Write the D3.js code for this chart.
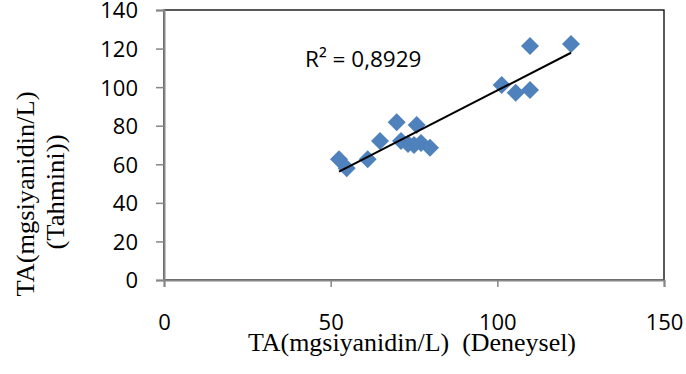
<!DOCTYPE html>
<html><head><meta charset="utf-8">
<script src="https://cdn.jsdelivr.net/npm/d3@7"></script>
<style>body{margin:0;background:#fff}svg{display:block}</style>
</head><body>
<svg id="c" width="686" height="374"></svg>
<script>
const xValues = [52.5, 54.8, 61.1, 64.8, 69.8, 71.1, 73.2, 75.0, 75.8, 77.1, 79.8, 101.3, 105.5, 109.8, 109.8, 122.1];
const yValues = [62.6, 57.9, 62.6, 72.1, 81.8, 72.1, 70.5, 70.0, 80.4, 71.0, 68.6, 101.1, 97.1, 98.5, 121.3, 122.4];
const xTicks = [0, 50, 100, 150];
const yTicks = [0, 20, 40, 60, 80, 100, 120, 140];
const r2Label = "R² = 0,8929";
const xTitle = "TA(mgsiyanidin/L)  (Deneysel)";
const yTitleLines = ["TA(mgsiyanidin/L)", "(Tahmini))"];

const svg = d3.select("#c");
const L = 164, R = 664, T = 10, B = 280;
const x = d3.scaleLinear().domain([0, 150]).range([L, R]);
const y = d3.scaleLinear().domain([0, 140]).range([B, T]);

// plot border
svg.append("rect").attr("x", L).attr("y", T).attr("width", R - L).attr("height", B - T)
  .attr("fill", "none").attr("stroke", "#000").attr("stroke-width", 1.3);

const axisColor = "#868686";
const gx = svg.append("g").attr("transform", `translate(0,${B})`)
  .call(d3.axisBottom(x).tickValues(xTicks).tickSize(7).tickFormat(d3.format("d")));
const gy = svg.append("g").attr("transform", `translate(${L},0)`)
  .call(d3.axisLeft(y).tickValues(yTicks).tickSize(8).tickFormat(d3.format("d")));
[gx, gy].forEach(g => {
  g.select(".domain").attr("stroke", axisColor).attr("stroke-width", 2);
  g.selectAll(".tick line").attr("stroke", axisColor).attr("stroke-width", 1.5);
  g.selectAll(".tick text").attr("fill", "#000").style("font-family", "'Open Sans', sans-serif").style("font-size", "22px");
});
gx.selectAll(".tick text").attr("y", 0).attr("dy", 0).attr("transform", "translate(0,49.5)");
gy.selectAll(".tick text").attr("x", -26).attr("dy", "0.36em");

// trend line (least squares)
const n = xValues.length;
const mx = d3.mean(xValues), my = d3.mean(yValues);
let sxy = 0, sxx = 0;
for (let i = 0; i < n; i++) { sxy += (xValues[i] - mx) * (yValues[i] - my); sxx += (xValues[i] - mx) ** 2; }
const slope = sxy / sxx, intercept = my - slope * mx;
const x0 = d3.min(xValues), x1 = d3.max(xValues);

// points
const s = 9;
svg.append("g").selectAll("path").data(d3.range(n)).join("path")
  .attr("d", i => { const cx = x(xValues[i]), cy = y(yValues[i]);
    return `M${cx},${cy - s}L${cx + s},${cy}L${cx},${cy + s}L${cx - s},${cy}Z`; })
  .attr("fill", "#4F81BD");

svg.append("line").attr("x1", x(x0)).attr("y1", y(intercept + slope * x0))
  .attr("x2", x(x1)).attr("y2", y(intercept + slope * x1))
  .attr("stroke", "#000").attr("stroke-width", 2);

svg.append("text").attr("x", 305).attr("y", 67).text(r2Label)
  .style("font-family", "'Open Sans', sans-serif").style("font-size", "22.5px");

svg.append("text").attr("x", 412).attr("y", 351).attr("text-anchor", "middle")
  .attr("textLength", 328).attr("lengthAdjust", "spacingAndGlyphs")
  .style("white-space", "pre")
  .style("font-family", "'Liberation Serif', 'Times New Roman', serif").style("font-size", "25px")
  .text(xTitle);

const yt = svg.append("g").attr("transform", "translate(0,194) rotate(-90)");
yt.append("text").attr("x", 0).attr("y", 34).attr("text-anchor", "middle")
  .attr("textLength", 205).attr("lengthAdjust", "spacingAndGlyphs")
  .style("font-family", "'Liberation Serif', 'Times New Roman', serif").style("font-size", "25px")
  .text(yTitleLines[0]);
yt.append("text").attr("x", 2).attr("y", 64).attr("text-anchor", "middle")
  .attr("textLength", 115).attr("lengthAdjust", "spacingAndGlyphs")
  .style("font-family", "'Liberation Serif', 'Times New Roman', serif").style("font-size", "25px")
  .text(yTitleLines[1]);
</script>
</body></html>
